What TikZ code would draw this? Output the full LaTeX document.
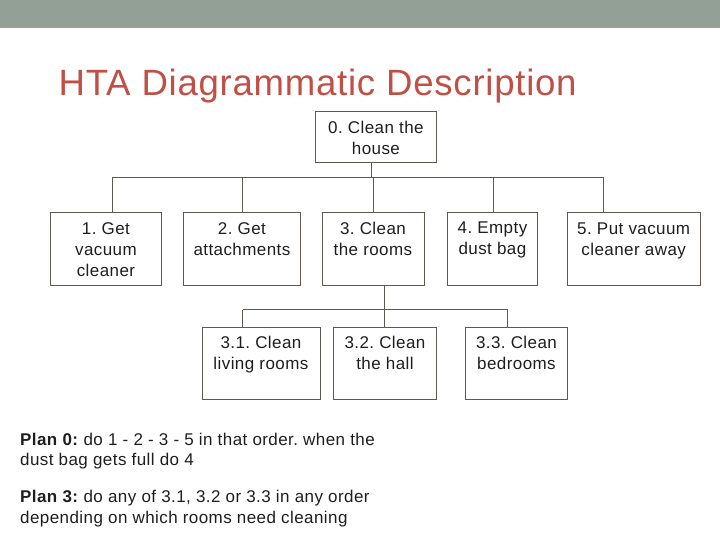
\documentclass[tikz,border=0pt]{standalone}
\usepackage{fontspec}
\setmainfont{Liberation Sans}
\newfontfamily\boxfont[LetterSpace=2.5]{Liberation Sans}
\newfontfamily\planfont[LetterSpace=2.5]{Liberation Sans}
\newfontfamily\titlefont[LetterSpace=2]{Liberation Sans}
\usetikzlibrary{positioning}
\definecolor{barcol}{RGB}{146,160,150}
\definecolor{titlecol}{RGB}{192,80,70}
\definecolor{linecol}{RGB}{95,88,80}
\definecolor{inkcol}{RGB}{30,30,30}
\frenchspacing
% box body: fixed size, text hanging from the top
\newcommand{\taskbody}[3]{\parbox[b][#2pt][t]{#1pt}{\centering\vspace*{6.8pt}\strut #3}}

\begin{document}
\begin{tikzpicture}[x=1pt, y=-1pt]
  \useasboundingbox (0,0) rectangle (720,540);
  \tikzset{task/.style={draw=linecol, line width=0.9pt, inner sep=0pt, anchor=north west, text=inkcol, font=\boxfont\fontsize{17}{21}\selectfont},
    link/.style={draw=linecol, line width=0.9pt},
    plan/.style={anchor=north west, inner sep=0pt, align=left, text=inkcol, font=\planfont\fontsize{17}{20.5}\selectfont}}
  % ---- header bar and title ----
  \fill[barcol] (0,0) rectangle (720,28);
  \node[anchor=base west, inner sep=0pt, text=titlecol, font=\titlefont\fontsize{36.6}{40}\selectfont] (title) at (58.5,96) {HTA Diagrammatic Description};
  % ---- task boxes ----
  \foreach \n/\x/\y/\w/\h/\t in {
    t0/315/111.5/121/51/{0. Clean the\\house},
    t1/50/212.5/111/72.5/{1. Get\\vacuum\\cleaner},
    t2/183/212.5/117/72.5/{2. Get\\attachments},
    t3/321.5/212.5/102/72.5/{3. Clean\\the rooms},
    t4/447/212/90/73/{4. Empty\\dust bag},
    t5/566.5/212.5/133.5/72.5/{5. Put vacuum\\cleaner away},
    t31/201.5/327/118/72/{3.1. Clean\\living rooms},
    t32/333/327/103/72/{3.2. Clean\\the hall},
    t33/465/327/102/72/{3.3. Clean\\bedrooms}} {
    \node[task] (\n) at (\x,\y) {\taskbody{\w}{\h}{\t}};
  }
  % ---- level 1 links ----
  \coordinate (bus0) at (371,177);
  \draw[link] (t0.south -| bus0) -- (bus0);
  \foreach \n/\x in {t1/112, t2/242, t3/373, t4/493, t5/603}
    \coordinate (s\n) at (\x,177);
  \draw[link] (st1) -- (st5);
  \foreach \n in {t1,t2,t3,t4,t5}
    \draw[link] (s\n) -- (s\n |- \n.north);
  % ---- level 2 links ----
  \coordinate (bus3) at (384.5,309.5);
  \draw[link] (t3.south -| bus3) -- (bus3);
  \foreach \n/\x in {t31/242.5, t32/384.5, t33/507.5}
    \coordinate (s\n) at (\x,309.5);
  \draw[link] (st31) -- (st33);
  \foreach \n in {t31,t32,t33}
    \draw[link] (s\n) -- (s\n |- \n.north);
  % ---- plans ----
  \node[plan] (plan0) at (20,432.8) {\textbf{Plan 0:} do 1 - 2 - 3 - 5 in that order. when the\\dust bag gets full do 4};
  \node[plan] (plan3) at (20,490.3) {\textbf{Plan 3:} do any of 3.1, 3.2 or 3.3 in any order\\depending on which rooms need cleaning};
\end{tikzpicture}
\end{document}
